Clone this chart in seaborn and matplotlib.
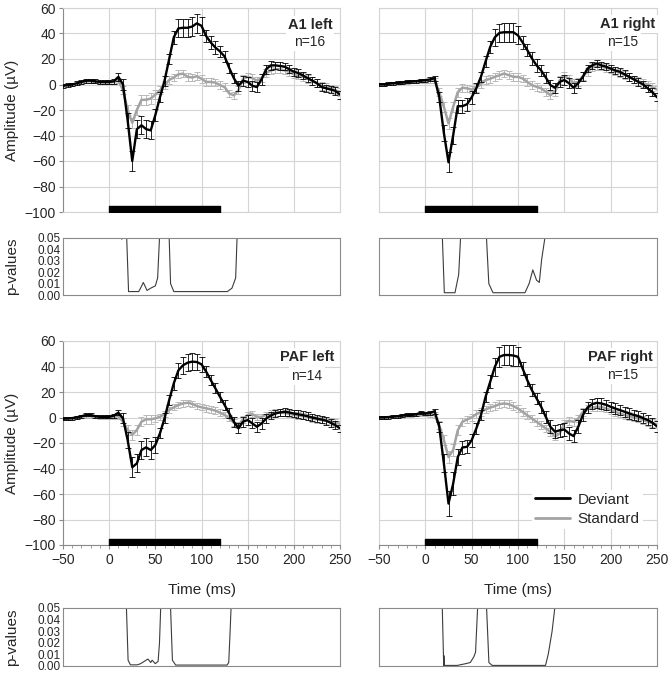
import matplotlib
matplotlib.use("Agg")
import matplotlib.pyplot as plt
import seaborn as sns
import pandas as pd
from matplotlib.ticker import MultipleLocator

# ---------------- data ----------------
time_ms = list(range(-50, 251, 5))
stim = [0, 120]

dev_a1l = [-1, -0.5, 0, 1, 2, 3, 3, 2.5, 2, 2,
           2, 2.5, 6, 0, -28, -60, -35, -32, -35, -36,
           -24, -10, 3, 20, 37, 44, 44.5, 44.5, 45.5, 48,
           46, 38, 33, 29, 26, 22, 13, 5, -1, 3,
           2, -1, -2, 4, 12, 15, 15, 14.5, 14, 12,
           10, 9, 7, 5, 3, 1, -2, -3, -4, -5,
           -8]
sem_dev_a1l = [1.5, 1.5, 1.5, 1.5, 1.5, 1.5, 1.5, 1.5, 1.5, 1.5,
               1.5, 2, 3, 4, 6, 8, 7, 7, 7, 7,
               5, 4, 4, 4, 5, 7, 7, 7, 7.5, 7.5,
               7, 5, 5, 5, 4.5, 4, 4, 4, 4, 4,
               4, 4, 4, 4, 3.5, 3.5, 3, 3, 3, 3,
               3, 3, 3, 3, 3, 3, 3, 3, 3, 3,
               3]
std_a1l = [-1, -0.5, 0, 0.5, 1.5, 2.5, 2.5, 2, 1.5, 1.5,
           1.5, 2, 3, -4.5, -20, -30, -20, -12, -12, -11,
           -8, -4.5, -0.5, 3.5, 5.5, 8, 8.5, 6, 5.5, 6.5,
           4.5, 2, 2, 1.5, -0.5, -2, -7, -8.5, -4.5, 4.5,
           6, 5, 3, 5, 9, 11, 12, 12, 11, 10,
           8, 7, 6, 4.5, 3, 1, -1, -2, -3, -4.5,
           -6]
sem_std_a1l = [1, 1, 1, 1, 1, 1, 1, 1, 1, 1,
               1, 1.5, 2, 3, 4, 4, 4, 4, 4, 4,
               3.5, 3, 3, 3, 3, 3, 3, 3, 3, 3,
               3, 3, 3, 3, 3, 3, 3, 3, 3, 3,
               3, 3, 3, 3, 3, 3, 3, 3, 3, 3,
               3, 3, 3, 3, 3, 3, 3, 3, 3, 3,
               3]

dev_a1r = [0, 0, 0.5, 1, 1.3, 1.5, 2, 2.3, 2.6, 3,
           3.4, 4, 5, -10, -38, -61, -40, -17, -17, -15.5,
           -10, -3, 6, 18, 29.5, 37, 40.5, 41, 41, 41,
           38.5, 33, 27, 20.5, 15, 11, 5.5, -0.5, -2.5, 2,
           3.5, 1, -2.5, 1, 6, 12.5, 15, 16.5, 15, 14,
           12.5, 11, 10, 8, 6, 4, 2, 0, -3, -6,
           -10]
sem_dev_a1r = [1.2, 1.2, 1.2, 1.2, 1.2, 1.2, 1.2, 1.2, 1.2, 1.2,
               1.2, 1.5, 2, 4, 6, 8, 7, 5, 5, 5,
               5, 4, 4, 4, 5, 6.5, 7, 7.5, 7.5, 7.5,
               7, 5, 5, 5, 5, 4, 4, 4, 4, 4,
               4, 4, 4, 3.5, 3.5, 3, 3, 3, 3, 3,
               3, 3, 3, 3, 3, 3, 3, 3, 3, 3,
               3]
std_a1r = [0, 0, 0.3, 0.6, 1, 1.2, 1.5, 1.8, 2, 2.3,
           2.5, 3, 3, -6, -17.5, -30.5, -17.5, -6, -2.5, -3,
           -4, -2.5, 0.3, 3.5, 4.5, 6, 7.3, 8.6, 7.3, 6,
           6, 4.7, 2, -0.5, -1.8, -3, -5.7, -8.4, -5.7, 3.4,
           6.5, 4.7, 1.3, 2, 6.5, 10, 13.5, 14, 14, 13,
           12, 10.5, 9, 7.5, 6, 4, 2.5, 1, 0, -2,
           -4]
sem_std_a1r = [1, 1, 1, 1, 1, 1, 1, 1, 1, 1,
               1, 1.5, 2, 3, 4, 4.5, 4, 3.5, 3, 3,
               3, 3, 3, 3, 3, 3, 3, 3, 3, 3,
               3, 3, 3, 3, 3, 3, 3, 3, 3, 3,
               3, 3, 3, 3, 3, 3, 3, 3, 3, 3,
               3, 3, 3, 3, 3, 3, 3, 3, 3, 3,
               3]

dev_pafl = [-1, -0.8, -0.5, 0, 1, 2, 2, 1, 0.5, 0.5,
            0.5, 1.5, 3.8, -0.7, -17.6, -39, -36, -25.5, -23.4, -25.5,
            -21.6, -12.4, -0.6, 13.7, 26.8, 37, 41, 43, 43.8, 43.5,
            41.7, 36, 29.4, 22.9, 16.3, 9.8, 3.3, -3.3, -8.5, -3.3,
            -2, -4.6, -7.3, -4.7, -0.8, 1.5, 3.1, 4, 4.4, 4,
            3.1, 2.5, 1.8, 1, 0, -0.8, -1.6, -2.5, -4.2, -6,
            -8.6]
sem_dev_pafl = [1.2, 1.2, 1.2, 1.2, 1.2, 1.2, 1.2, 1.2, 1.2, 1.2,
                1.2, 1.5, 2, 4, 6, 8, 7, 7, 7, 7,
                6, 4, 4, 4, 5, 6, 6.5, 6.5, 6.5, 6.5,
                6, 4.5, 4, 4, 4, 4, 4, 4, 4, 4,
                4, 4, 4, 4, 3.5, 3, 3, 3, 3, 3,
                3, 3, 3, 3, 3, 3, 3, 3, 3, 3,
                3]
std_pafl = [-1, -0.8, -0.5, 0, 0.5, 1, 1, 0.5, 0, 0,
            0, 0.5, 1, -3.3, -9.8, -13.7, -9.8, -3.3, -1.4, -1.4,
            -0.7, 0.6, 2.7, 5.9, 8, 9.8, 11, 11.6, 10.6, 9,
            8, 7.2, 6.4, 5.4, 3.8, 2, -0.6, -4, -5.9, -1.5,
            2, 2.7, 0.5, 0.5, 2, 3, 4, 4, 3.5, 3,
            2, 1.5, 1, 0.5, -1, -1.5, -2, -2.5, -3, -4,
            -5]
sem_std_pafl = [1, 1, 1, 1, 1, 1, 1, 1, 1, 1,
                1, 1.5, 2, 3, 4, 4, 4, 3.5, 3.5, 3.5,
                2.5, 2.5, 2.5, 2.5, 2.5, 2.5, 2.5, 2.5, 2.5, 2.5,
                2.5, 2.5, 2.5, 2.5, 2.5, 2.5, 2.5, 2.5, 2.5, 2.5,
                2.5, 2.5, 2.5, 2.5, 2.5, 2.5, 2.5, 2.5, 2.5, 2.5,
                2.5, 2.5, 2.5, 2.5, 2.5, 2.5, 2.5, 2.5, 2.5, 2.5,
                2.5]

dev_pafr = [0, 0, 0.3, 0.6, 1, 1.5, 2, 2, 2.5, 3.7,
            3, 3.5, 5, -7.3, -36, -67.5, -52, -31, -23.5, -23,
            -17.8, -8.6, 1.8, 16.2, 28, 39.7, 47.6, 49, 49, 48.6,
            47.6, 38.4, 29.3, 21.4, 15, 8.4, 0.5, -7.3, -11.2, -10,
            -9.4, -12.5, -14.6, -7.3, 1.8, 7.8, 10.5, 11.5, 11, 10,
            8.4, 7, 5.8, 4.5, 3.1, 2, 1, -0.5, -2, -4,
            -7]
sem_dev_pafr = [1.2, 1.2, 1.2, 1.2, 1.2, 1.2, 1.2, 1.2, 1.2, 1.2,
                1.2, 1.5, 2, 4, 7, 10, 9, 6, 5, 5,
                5, 4, 4, 4, 5, 7, 8, 8, 8, 8,
                7.5, 5, 4.5, 4.5, 4.5, 4.5, 4.5, 5, 5, 5,
                5, 5, 5, 5, 4.5, 4, 4, 4, 4, 4,
                4, 4, 4, 4, 4, 4, 4, 4, 4, 4,
                4]
std_pafr = [0, 0, 0.3, 0.5, 0.8, 1, 1.3, 1.5, 1.8, 2,
            2, 2, 2, -6, -17.8, -31, -25.6, -10, -3.4, -1.6,
            0, 2.6, 4.4, 6.3, 7.8, 8.9, 10.5, 11, 10.5, 8.9,
            7, 4.4, 1.8, -0.8, -3.4, -6, -8.6, -11.2, -15, -12.5,
            -4.7, -2.6, -3.4, -0.8, 4.4, 6.5, 7.8, 8.4, 8.4, 7,
            5.8, 4.5, 3.1, 2, 1, 0, -0.8, -2, -3.4, -4.5,
            -5.2]
sem_std_pafr = [1, 1, 1, 1, 1, 1, 1, 1, 1, 1,
                1, 1.5, 2, 3, 4, 4.5, 4.5, 4, 3, 3,
                3, 3, 3, 3, 3, 3, 3, 3, 3, 3,
                3, 3, 3, 3, 3, 3, 3, 3, 3, 3,
                3, 3, 3, 3, 3, 3, 3, 3, 3, 3,
                3, 3, 3, 3, 3, 3, 3, 3, 3, 3,
                3]

# p-values (values above 0.05 fall outside the plotted range)
pt_a1l = [-50, 13.4, 13.7, 14.0, 18.5, 19, 21, 32, 34, 37, 41, 45, 50, 52.5, 54.5, 55,
          64.5, 65, 66.5, 70, 128, 133, 137, 138.5, 139, 250]
pv_a1l = [1, 1, 0.049, 1, 1, 0.05, 0.003, 0.003, 0.006, 0.011, 0.004, 0.006, 0.008, 0.015, 0.05, 1,
          1, 0.05, 0.01, 0.003, 0.003, 0.006, 0.015, 0.05, 1, 1]
pt_a1r = [-50, 18, 18.4, 20.5, 32, 34, 36, 38, 38.5, 65.5, 66, 68.5, 73, 107.5, 112, 116,
          120, 123, 125.5, 129, 129.5, 250]
pv_a1r = [1, 1, 0.05, 0.002, 0.002, 0.01, 0.018, 0.05, 1, 1, 0.05, 0.01, 0.002, 0.002, 0.01, 0.022,
          0.013, 0.011, 0.031, 0.05, 1, 1]
pt_pafl = [-50, 18.5, 18.7, 20.5, 23, 30.5, 34, 38, 42, 45, 46.5, 50, 53, 54.5, 55.8, 56,
           66.3, 66.5, 68.5, 72, 127.7, 129.5, 131, 132, 132.3, 250]
pv_pafl = [1, 1, 0.05, 0.005, 0.001, 0.001, 0.002, 0.004, 0.006, 0.003, 0.005, 0.002, 0.004, 0.02, 0.05, 1,
           1, 0.05, 0.005, 0.0008, 0.0008, 0.003, 0.03, 0.05, 1, 1]
pt_pafr = [-50, 18, 18.3, 19.8, 20, 20.3, 21, 34.5, 43.5, 48.5, 52.4, 54.2, 56.4, 56.7,
           65.8, 66.1, 68.6, 72, 129.7, 132.6, 136.8, 139.7, 140, 250]
pv_pafr = [1, 1, 0.05, 0.0005, 0.009, 0.0005, 0.0005, 0.0005, 0.002, 0.003, 0.008, 0.012, 0.05, 1,
           1, 0.05, 0.003, 0.0005, 0.0005, 0.01, 0.03, 0.05, 1, 1]

titles = ["A1 left", "A1 right", "PAF left", "PAF right"]
n_labels = ["n=16", "n=15", "n=14", "n=15"]
y_ticks_erp = [-100, -80, -60, -40, -20, 0, 20, 40, 60]
x_ticks = [-50, 0, 50, 100, 150, 200, 250]
p_ticks = [0.00, 0.01, 0.02, 0.03, 0.04, 0.05]

# ---------------- style ----------------
sns.set_style("white")
plt.rcParams['font.family'] = ['Liberation Sans', 'DejaVu Sans']

W, H = 670, 674
fig = plt.figure(figsize=(W / 100, H / 100), dpi=100)


def rect(l, t, r, b):
    return [l / W, 1 - b / H, (r - l) / W, (b - t) / H]


GRID = '#d4d4d4'
AXC = '#8a8a8a'
BLACK = '#000000'
GRAY_LINE = '#a3a3a3'
GRAY_ERR = '#b8b8b8'

panels = [
    dict(dev=dev_a1l, sdev=sem_dev_a1l, std=std_a1l, sstd=sem_std_a1l, pt=pt_a1l, pv=pv_a1l,
         erp=rect(63, 8, 340, 212), p=rect(63, 238, 340, 295), left=True, bottom=False,
         tpos=(0.972, 0.917), npos=(0.892, 0.833)),
    dict(dev=dev_a1r, sdev=sem_dev_a1r, std=std_a1r, sstd=sem_std_a1r, pt=pt_a1r, pv=pv_a1r,
         erp=rect(379, 8, 657, 212), p=rect(379, 238, 657, 295), left=False, bottom=False,
         tpos=(0.995, 0.922), npos=(0.878, 0.833)),
    dict(dev=dev_pafl, sdev=sem_dev_pafl, std=std_pafl, sstd=sem_std_pafl, pt=pt_pafl, pv=pv_pafl,
         erp=rect(63, 341, 340, 545), p=rect(63, 608, 340, 666), left=True, bottom=True,
         tpos=(0.978, 0.922), npos=(0.881, 0.828)),
    dict(dev=dev_pafr, sdev=sem_dev_pafr, std=std_pafr, sstd=sem_std_pafr, pt=pt_pafr, pv=pv_pafr,
         erp=rect(379, 341, 657, 545), p=rect(379, 608, 657, 666), left=False, bottom=True,
         tpos=(0.986, 0.922), npos=(0.876, 0.833)),
]

for i, pn in enumerate(panels):
    ax = fig.add_axes(pn['erp'])
    ax.set_axisbelow(True)
    df = pd.DataFrame({'t': time_ms, 'dev': pn['dev'], 'std': pn['std']})

    ax.errorbar(time_ms, pn['std'], yerr=pn['sstd'], fmt='none', ecolor=GRAY_ERR,
                elinewidth=0.7, capsize=2.3, capthick=0.7, zorder=2)
    sns.lineplot(data=df, x='t', y='std', ax=ax, color=GRAY_LINE, lw=1.8,
                 estimator=None, zorder=3, label='Standard')
    ax.errorbar(time_ms, pn['dev'], yerr=pn['sdev'], fmt='none', ecolor=BLACK,
                elinewidth=0.6, capsize=2.3, capthick=0.6, zorder=4)
    sns.lineplot(data=df, x='t', y='dev', ax=ax, color=BLACK, lw=1.7,
                 estimator=None, zorder=5, label='Deviant')

    ax.broken_barh([(stim[0], stim[1] - stim[0])], (-100, 4.6), color='black', zorder=6)

    ax.set_xlim(-50, 250)
    ax.set_ylim(-100, 60)
    ax.set_xticks(x_ticks)
    ax.set_yticks(y_ticks_erp)
    ax.grid(True, color=GRID, lw=0.8)
    for s in ax.spines.values():
        s.set_color(GRID)
        s.set_linewidth(0.8)
    ax.set_xlabel('')
    ax.set_ylabel('')

    if pn['left']:
        ax.spines['left'].set_color(AXC)
        ax.tick_params(axis='y', length=3, color=AXC, labelsize=10, pad=2, direction='out', left=True)
        ax.set_ylabel('Amplitude (µV)', fontsize=11)
        ax.yaxis.set_label_coords(-0.184, 0.5)
        ax.yaxis.label.set_va('center')
    else:
        ax.tick_params(axis='y', length=0, labelleft=False)

    if pn['bottom']:
        ax.spines['bottom'].set_color(AXC)
        ax.xaxis.set_minor_locator(MultipleLocator(10))
        ax.tick_params(axis='x', which='major', length=3, color=AXC, labelsize=10, pad=3,
                       direction='out', bottom=True)
        ax.tick_params(axis='x', which='minor', length=2, color=AXC, direction='out', bottom=True)
        ax.set_xlabel('Time (ms)', fontsize=11)
        ax.xaxis.set_label_coords(0.5, -0.222)
        ax.xaxis.label.set_va('center')
    else:
        ax.tick_params(axis='x', length=0, labelbottom=False)

    box = dict(facecolor='white', edgecolor='none', pad=1.5)
    ax.text(pn['tpos'][0], pn['tpos'][1], titles[i], transform=ax.transAxes, ha='right',
            va='center', fontsize=10.5, fontweight='bold', bbox=box, zorder=7)
    ax.text(pn['npos'][0], pn['npos'][1], n_labels[i], transform=ax.transAxes, ha='center',
            va='center', fontsize=10, bbox=box, zorder=7)

    if i == 3:
        h, l = ax.get_legend_handles_labels()
        order = [l.index('Deviant'), l.index('Standard')]
        leg = ax.legend([h[k] for k in order], [l[k] for k in order], loc='upper left',
                        bbox_to_anchor=(0.55, 0.272), borderaxespad=0, frameon=True,
                        facecolor='white', edgecolor='none', framealpha=1, fontsize=11,
                        handlelength=2.3, handletextpad=0.5, labelspacing=0.35, borderpad=0.2)
        for lh in leg.get_lines():
            lh.set_linewidth(2)
        leg.set_zorder(8)
    else:
        lg = ax.get_legend()
        if lg is not None:
            lg.remove()

    # p-value panel
    axp = fig.add_axes(pn['p'])
    dfp = pd.DataFrame({'t': pn['pt'], 'p': pn['pv']})
    sns.lineplot(data=dfp, x='t', y='p', ax=axp, color='#3c3c3c', lw=0.8, estimator=None, sort=False)
    axp.set_xlim(-50, 250)
    axp.set_ylim(0, 0.05)
    axp.set_yticks(p_ticks)
    axp.set_xticks([])
    axp.set_xlabel('')
    axp.set_ylabel('')
    for s in axp.spines.values():
        s.set_visible(True)
        s.set_color(AXC)
        s.set_linewidth(0.8)
    if pn['left']:
        axp.set_yticklabels([f'{v:.2f}' for v in p_ticks])
        axp.tick_params(axis='y', length=0, labelsize=8.5, pad=2)
        axp.set_ylabel('p-values', fontsize=11)
        axp.yaxis.set_label_coords(-0.184, 0.5)
        axp.yaxis.label.set_va('center')
    else:
        axp.tick_params(axis='y', length=0, labelleft=False)

fig.savefig('out.png', dpi=100)
